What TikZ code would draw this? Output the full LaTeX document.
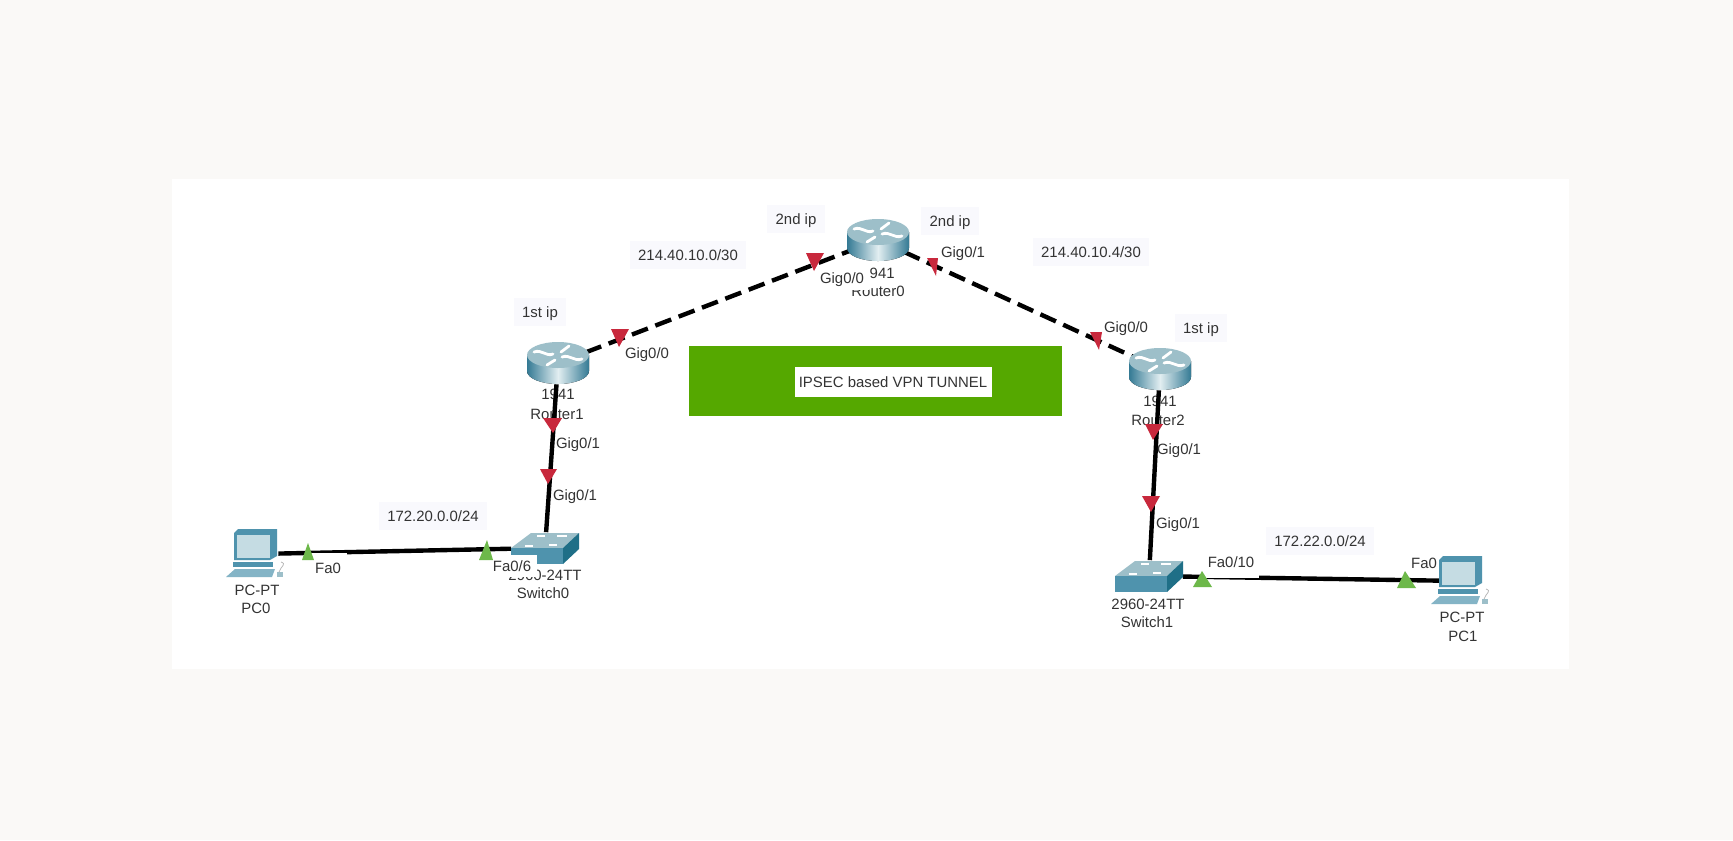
\documentclass[tikz,border=0pt]{standalone}
\usepackage{fontspec}
\setmainfont{Liberation Sans}
\usetikzlibrary{shapes.geometric, positioning}

\definecolor{pagebg}{HTML}{FAF9F7}
\definecolor{tunnelgreen}{HTML}{55A800}
\definecolor{portred}{HTML}{C8283C}
\definecolor{portgreen}{HTML}{6DB84A}
\definecolor{iptint}{HTML}{F9F9FD}
\definecolor{labelgray}{HTML}{333333}
\definecolor{iconedge}{HTML}{347A94}
\definecolor{iconmid}{HTML}{E2EEF1}
\definecolor{icontop}{HTML}{9DBFC9}
\definecolor{iconface}{HTML}{4F93AD}
\definecolor{icondark}{HTML}{1F6F87}

\tikzset{
    routernode/.style={ellipse, minimum width=1.24cm, minimum height=0.84cm, inner sep=0pt},
    switchnode/.style={rectangle, minimum width=1.34cm, minimum height=0.62cm, inner sep=0pt},
    pcnode/.style={rectangle, minimum width=0.84cm, minimum height=1cm, inner sep=0pt},
    link/.style={line width=2.5pt, black},
    dashlink/.style={link, dash pattern=on 17*0.02cm off 8*0.02cm},
    txt/.style={font=\fontsize{8.5}{10}\selectfont, text=labelgray, inner sep=0pt, text height=6pt, text depth=0pt},
    iplabel/.style={txt, fill=iptint, inner xsep=0.17cm, minimum height=0.56cm},
    portlabel/.style={txt},
    coverlabel/.style={txt, fill=white},
    portdown/.style={fill=portred},
    portup/.style={fill=portgreen},
    routericon/.pic={
        \fill[left color=iconedge, right color=iconedge, middle color=iconmid]
            (-31,-8) -- (-31,8) arc (180:0:31 and 13) -- (31,-8) -- cycle;
        \fill[icontop] (0,-8) ellipse (31 and 13);
        \draw[white, line width=1.6pt, line cap=round]
            (-24,-11) .. controls (-16,-14) and (-12,-6) .. (-5,-9)
            (24,-4) .. controls (16,-1) and (12,-9) .. (4,-6)
            (3,-11) -- (11,-17)
            (-3,-3) -- (-11,2);
    },
    switchicon/.pic={
        \fill[icontop] (-34,0) -- (-14,-15) -- (34,-15) -- (18,0) -- cycle;
        \fill[iconface] (-34,0) -- (18,0) -- (18,16) -- (-34,16) -- cycle;
        \fill[icondark] (18,0) -- (34,-15) -- (34,1) -- (18,16) -- cycle;
        \draw[white, line width=0.9pt]
            (-20,-2) -- (-12,-2) (-8,-12) -- (0,-12)
            (4,-3) -- (12,-3) (12,-12) -- (22,-12);
    },
    pcicon/.pic={
        \fill[iconface] (-23,-21) -- (-19,-25) -- (20,-25) -- (20,2) -- (13,6) -- (-23,6) -- cycle;
        \fill[iconmid!80!iconface] (-20,-19) rectangle (13,4);
        \fill[iconface] (-24,8) rectangle (16,13);
        \fill[iconface!70] (-31,23) -- (-22,15) -- (18,15) -- (15,23) -- cycle;
        \fill[icontop] (20,18) rectangle (26,23);
        \draw[gray!60, line width=0.4pt] (22,18) .. controls (24,12) and (30,10) .. (24,8);
    },
}

\begin{document}
\begin{tikzpicture}[x=0.02cm, y=-0.02cm]

    \useasboundingbox (0,0) rectangle (1733,840);
    \fill[pagebg] (0,0) rectangle (1733,840);
    \fill[white] (172,179) rectangle (1569,669);

    % Devices
    \node[routernode] (router0) at (878,240) {};
    \node[routernode] (router1) at (558,363) {};
    \node[routernode] (router2) at (1160,369) {};
    \node[switchnode] (switch0) at (545,548) {};
    \node[switchnode] (switch1) at (1149,576) {};
    \node[pcnode] (pc0) at (257,554) {};
    \node[pcnode] (pc1) at (1462,581) {};

    % Tunnel box
    \fill[tunnelgreen] (689,346) rectangle (1062,416);
    \node[txt, fill=white, minimum width=197*0.02cm, minimum height=30*0.02cm] (tunnel) at (893,382) {IPSEC based VPN TUNNEL};

    % Device labels
    \node[txt] (model0) at (878,273) {1941};
    \node[txt] (name0) at (878,291) {Router0};
    \node[txt] (model1) at (558,394) {1941};
    \node[txt] (name1) at (557,414) {Router1};
    \node[txt] (model2) at (1160,401) {1941};
    \node[txt] (name2) at (1158,420) {Router2};
    \node[txt] (modelsw0) at (545,575) {2960-24TT};
    \node[txt] (namesw0) at (543,593) {Switch0};
    \node[txt] (modelsw1) at (1148,604) {2960-24TT};
    \node[txt] (namesw1) at (1147,622) {Switch1};
    \node[txt] (modelpc0) at (257,590) {PC-PT};
    \node[txt] (namepc0) at (256,608) {PC0};
    \node[txt] (modelpc1) at (1462,617) {PC-PT};
    \node[txt] (namepc1) at (1463,636) {PC1};

    % Links
    \draw[dashlink] (router1) -- (router0);
    \draw[dashlink] (router0) -- (router2);
    \draw[link] (router1) -- (switch0);
    \draw[link] (router2) -- (switch1);
    \draw[link] (pc0) -- (switch0);
    \draw[link] (switch1) -- (pc1);

    % Icons
    \path (router0) pic {routericon};
    \path (router1) pic {routericon};
    \path (router2) pic {routericon};
    \path (switch0) pic {switchicon};
    \path (switch1) pic {switchicon};
    \path (pc0) pic {pcicon};
    \path (pc1) pic {pcicon};

    % Port labels
    \node[portlabel] (port1a) at (647,353) {Gig0/0};
    \node[coverlabel, minimum width=54*0.02cm, minimum height=24*0.02cm] (port0a) at (842,278) {Gig0/0};
    \node[portlabel] (port0b) at (963,252) {Gig0/1};
    \node[portlabel] (port2a) at (1126,327) {Gig0/0};
    \node[portlabel] (port1b) at (578,443) {Gig0/1};
    \node[portlabel] (portsw0a) at (575,495) {Gig0/1};
    \node[portlabel] (port2b) at (1179,449) {Gig0/1};
    \node[portlabel] (portsw1a) at (1178,523) {Gig0/1};
    \node[coverlabel, minimum width=38*0.02cm, minimum height=30*0.02cm] (portpc0) at (328,568) {Fa0};
    \node[coverlabel, minimum width=50*0.02cm, minimum height=22*0.02cm] (portsw0b) at (512,566) {Fa0/6};
    \node[coverlabel, minimum width=56*0.02cm, minimum height=32*0.02cm] (portsw1b) at (1231,562) {Fa0/10};
    \node[portlabel] (portpc1) at (1424,563) {Fa0};

    % Port lights
    \fill[portdown] (611,329) -- (629,329) -- (619,347) -- cycle;
    \fill[portdown] (806,253) -- (824,253) -- (814,271) -- cycle;
    \fill[portdown] (927,258) -- (938,258) -- (936,276) -- cycle;
    \fill[portdown] (1090,332) -- (1102,332) -- (1099,350) -- cycle;
    \fill[portdown] (543,418) -- (562,418) -- (553,433) -- cycle;
    \fill[portdown] (540,469) -- (557,469) -- (548,484) -- cycle;
    \fill[portdown] (1145,424) -- (1163,424) -- (1153,440) -- cycle;
    \fill[portdown] (1142,496) -- (1160,496) -- (1151,512) -- cycle;
    \fill[portup] (302,560) -- (314,560) -- (308,543) -- cycle;
    \fill[portup] (479,560) -- (493,560) -- (487,540) -- cycle;
    \fill[portup] (1193,587) -- (1212,587) -- (1202,571) -- cycle;
    \fill[portup] (1397,588) -- (1416,588) -- (1405,571) -- cycle;

    % Addresses
    \node[iplabel] (ip0l) at (796,219) {2nd ip};
    \node[iplabel] (ip0r) at (950,221) {2nd ip};
    \node[iplabel] (ip1) at (540,312) {1st ip};
    \node[iplabel] (ip2) at (1201,328) {1st ip};
    \node[iplabel] (wanl) at (688,255) {214.40.10.0/30};
    \node[iplabel] (wanr) at (1091,252) {214.40.10.4/30};
    \node[iplabel] (lanl) at (433,516) {172.20.0.0/24};
    \node[iplabel] (lanr) at (1320,541) {172.22.0.0/24};

\end{tikzpicture}
\end{document}
